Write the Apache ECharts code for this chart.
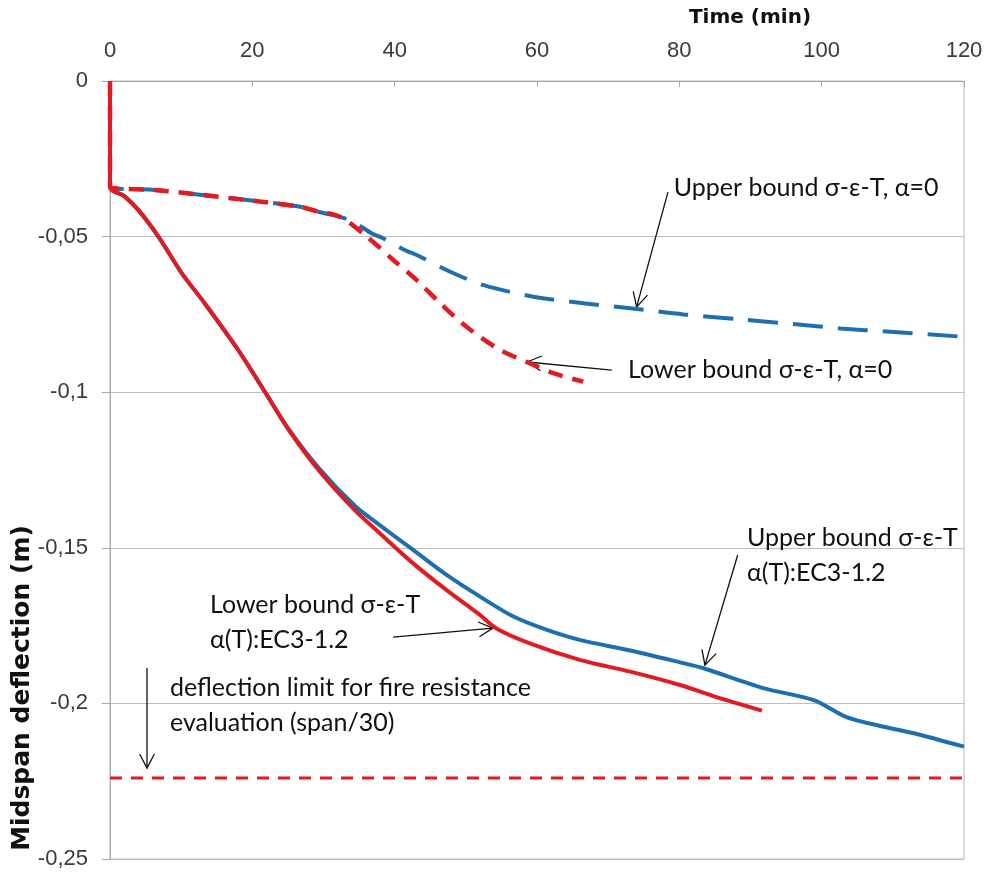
<!DOCTYPE html>
<html>
<head>
<meta charset="utf-8">
<title>Midspan deflection vs time</title>
<script src="https://cdn.jsdelivr.net/npm/echarts@6/dist/echarts.min.js"></script>
<style>
  html, body { margin: 0; padding: 0; background: #fff; }
  #chart { width: 986px; height: 875px; }
</style>
</head>
<body>
<div id="chart"></div>
<script>
// Time (min) ticks
const timeTicks = [0, 20, 40, 60, 80, 100, 120];
// Deflection ticks (m)
const deflectionTicks = [0, -0.05, -0.1, -0.15, -0.2, -0.25];

// Upper bound σ-ε-T, α(T): EC3-1.2  [time, deflection]
const upperEC3 = [
  [0, 0], [0, -0.034], [2, -0.037], [4, -0.0415], [6.8, -0.050], [10.1, -0.0618],
  [13.3, -0.0714], [18, -0.0864], [21.8, -0.100], [25.1, -0.1118], [29.3, -0.1243],
  [34.4, -0.1365], [37.9, -0.1427], [42.6, -0.1507], [47.3, -0.1587], [52, -0.1657],
  [56.7, -0.1721], [61.4, -0.1764], [66, -0.1796], [73.1, -0.1830], [80.1, -0.1868],
  [83.4, -0.1887], [91.8, -0.1951], [98.8, -0.1989], [103.5, -0.2044], [108.7, -0.2075],
  [112.8, -0.2095], [120, -0.2139]
];

// Lower bound σ-ε-T, α(T): EC3-1.2
const lowerEC3 = [
  [0, 0], [0, -0.034], [2, -0.037], [4, -0.0415], [6.8, -0.050], [10.1, -0.0618],
  [13.3, -0.0714], [18, -0.0864], [21.8, -0.100], [25.1, -0.1121], [29.3, -0.125],
  [34.4, -0.1379], [37.9, -0.1453], [42.6, -0.155], [47.3, -0.1636], [52, -0.1716],
  [54.3, -0.1759], [59, -0.1807], [66, -0.186], [73.1, -0.1898], [80.1, -0.1941],
  [85, -0.1978], [91.6, -0.2023]
];

// Upper bound σ-ε-T, α = 0
const upperAlpha0 = [
  [0, 0], [0, -0.034], [6.3, -0.035], [17.1, -0.0377], [26.7, -0.0404], [29.3, -0.042],
  [33.7, -0.0447], [36.8, -0.049], [38.4, -0.0506], [41.4, -0.0543], [43.1, -0.0559],
  [47.8, -0.0613], [52.5, -0.0656], [59.5, -0.0693], [66.5, -0.0714], [73.4, -0.0731],
  [80.6, -0.075], [88.5, -0.0766], [96, -0.0781], [102.6, -0.0795], [109.6, -0.0806],
  [120, -0.0822]
];

// Lower bound σ-ε-T, α = 0
const lowerAlpha0 = [
  [0, 0], [0, -0.034], [6.3, -0.035], [17.1, -0.0377], [26.7, -0.0404], [29.3, -0.042],
  [32.3, -0.0436], [36.1, -0.050], [39.8, -0.0575], [43.1, -0.064], [46.4, -0.0714],
  [50.1, -0.079], [54.8, -0.0864], [58.5, -0.0902], [62.3, -0.0939], [66.5, -0.0966]
];

// Deflection limit span/30
const limitLine = [[0, -0.224], [120, -0.224]];

// Annotation notes: text lines anchored at [time, deflection]; arrow from tail to tip
const notes = [
  { lines: ['Upper bound σ-ε-T, α=0'], at: [79.2, -0.0344], tail: [78.4, -0.0357], tip: [74.0, -0.0726] },
  { lines: ['Lower bound σ-ε-T, α=0'], at: [72.8, -0.0929], tail: [70.5, -0.0929], tip: [58.6, -0.0903] },
  { lines: ['Upper bound σ-ε-T', 'α(T):EC3-1.2'], at: [89.5, -0.1469], tail: [88.2, -0.1523], tip: [83.6, -0.1877] },
  { lines: ['Lower bound σ-ε-T', 'α(T):EC3-1.2'], at: [14.05, -0.1684], tail: [39.8, -0.1787], tip: [53.8, -0.1758] },
  { lines: ['deflection limit for fire resistance', 'evaluation (span/30)'], at: [8.43, -0.1951], tail: [5.2, -0.1886], tip: [5.2, -0.2208] }
];

const RED = '#e01b22';
const BLUE = '#1f6fae';

const chart = echarts.init(document.getElementById('chart'), null, { renderer: 'canvas' });

const fmt = v => {
  const r = Number(v.toFixed(2));
  return r === 0 ? '0' : String(r).replace('.', ',');
};

const option = {
  animation: false,
  backgroundColor: '#ffffff',
  grid: { left: 110, right: 22, top: 81, bottom: 16, show: true, borderColor: '#b8b8b8', borderWidth: 1 },
  xAxis: {
    type: 'value', position: 'top', min: timeTicks[0], max: timeTicks[timeTicks.length - 1], interval: 20,
    axisLine: { show: true, lineStyle: { color: '#a8a8a8', width: 1 } },
    axisTick: { show: true, inside: true, length: 6, lineStyle: { color: '#a8a8a8' } },
    splitLine: { show: false },
    axisLabel: { margin: 19, color: '#3a3a3a', fontSize: 22, fontFamily: 'Liberation Sans, Arial, sans-serif' }
  },
  yAxis: {
    type: 'value', min: deflectionTicks[deflectionTicks.length - 1], max: deflectionTicks[0], interval: 0.05,
    axisLine: { show: true, lineStyle: { color: '#a8a8a8', width: 1 } },
    axisTick: { show: true, inside: false, length: 8, lineStyle: { color: '#a8a8a8' } },
    splitLine: { show: true, lineStyle: { color: '#bdbdbd', width: 1 } },
    axisLabel: { margin: 22, formatter: fmt, color: '#3a3a3a', fontSize: 22, fontFamily: 'Liberation Sans, Arial, sans-serif' }
  },
  series: [
    { name: 'Deflection limit', type: 'line', data: limitLine, symbol: 'none', silent: true,
      lineStyle: { color: RED, width: 3, type: [12, 9] } },
    { name: 'Upper bound α=0', type: 'line', data: upperAlpha0, symbol: 'none', smooth: 0.3,
      lineStyle: { color: BLUE, width: 4, type: [30, 15] } },
    { name: 'Lower bound α=0', type: 'line', data: lowerAlpha0, symbol: 'none', smooth: 0.3,
      lineStyle: { color: RED, width: 4.5, type: [15, 10] } },
    { name: 'Upper bound EC3', type: 'line', data: upperEC3, symbol: 'none', smooth: 0.3,
      lineStyle: { color: BLUE, width: 4 } },
    { name: 'Lower bound EC3', type: 'line', data: lowerEC3, symbol: 'none', smooth: 0.3,
      lineStyle: { color: RED, width: 4 } }
  ]
};

chart.setOption(option);

// Axis titles, annotation texts and arrows placed from data coordinates
const px = p => chart.convertToPixel({ gridIndex: 0 }, p);
const graphics = [
  { type: 'text', x: 750, y: 18, style: { text: 'Time (min)', fontSize: 20, fontWeight: 'bold',
    fontFamily: 'DejaVu Sans, Verdana, sans-serif', fill: '#111', align: 'center', verticalAlign: 'middle' } },
  { type: 'text', x: 22, y: 688, rotation: Math.PI / 2, style: { text: 'Midspan deflection (m)', fontSize: 25,
    fontWeight: 'bold', fontFamily: 'DejaVu Sans, Verdana, sans-serif', fill: '#111', align: 'center', verticalAlign: 'middle' } }
];

const LINE_GAP = 35;
notes.forEach(n => {
  const a = px(n.at);
  n.lines.forEach((txt, i) => {
    graphics.push({ type: 'text', x: a[0], y: a[1] + i * LINE_GAP,
      style: { text: txt, fontSize: 25, fontFamily: 'Lato, Noto Sans, sans-serif', fill: '#111',
        align: 'left', verticalAlign: 'middle' } });
  });
  const s = px(n.tail), e = px(n.tip);
  const ang = Math.atan2(e[1] - s[1], e[0] - s[0]);
  const L = 16, H = 0.48;
  const h1 = [e[0] - L * Math.cos(ang - H), e[1] - L * Math.sin(ang - H)];
  const h2 = [e[0] - L * Math.cos(ang + H), e[1] - L * Math.sin(ang + H)];
  graphics.push({ type: 'polyline', shape: { points: [s, e] }, style: { stroke: '#111', lineWidth: 1.3, fill: null } });
  graphics.push({ type: 'polyline', shape: { points: [h1, e, h2] }, style: { stroke: '#111', lineWidth: 1.3, fill: null } });
});

chart.setOption({ graphic: graphics });
</script>
</body>
</html>
